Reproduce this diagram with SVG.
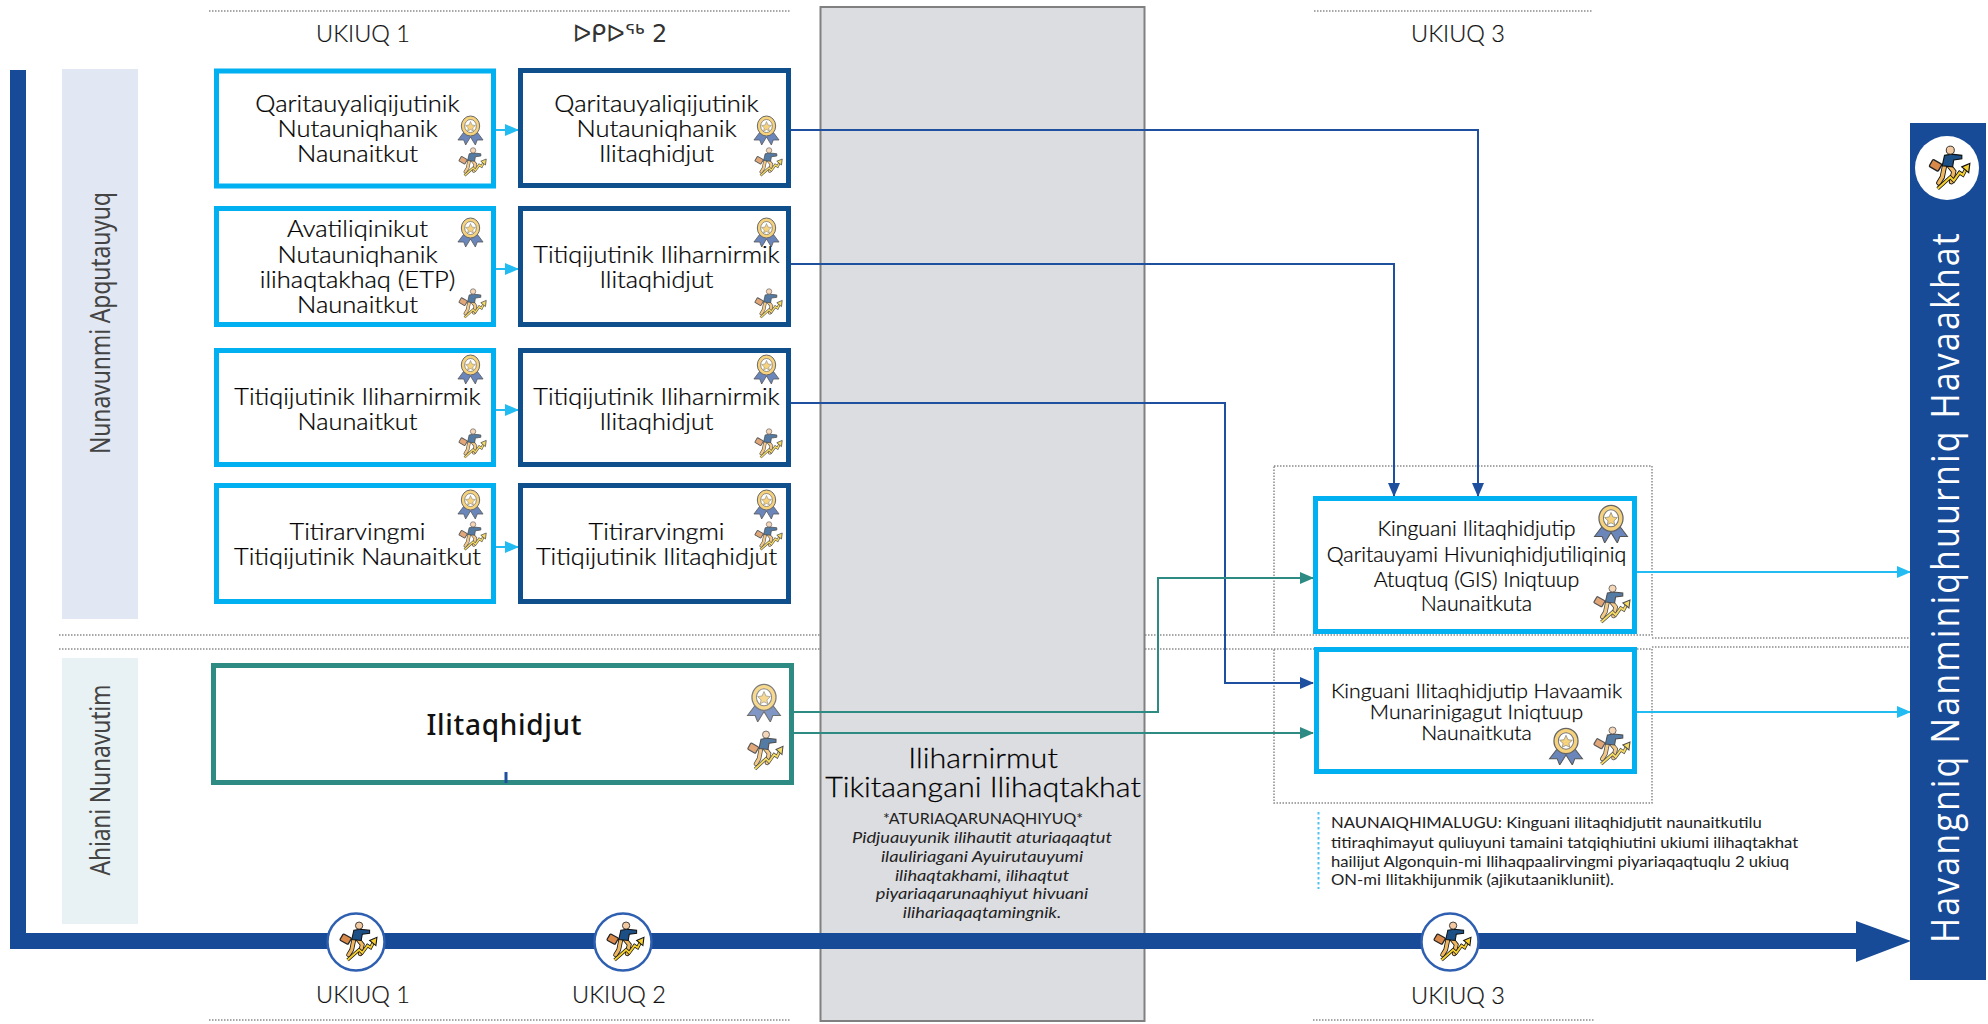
<svg xmlns="http://www.w3.org/2000/svg" width="1988" height="1024" viewBox="0 0 1988 1024">
<style>
.t{font-family:"Lato","Liberation Sans",sans-serif;fill:#000;text-anchor:middle;font-size:23px;font-weight:300;stroke:#000;stroke-width:.25}
.h{font-family:"Lato","Liberation Sans",sans-serif;fill:#111;text-anchor:middle;font-size:23.500px;font-weight:300;stroke:#111;stroke-width:.2}
.v{font-family:"Noto Sans","Liberation Sans",sans-serif;fill:#444;text-anchor:middle;font-size:23px}
.box{fill:#fff;stroke-width:5}
.cy{stroke:#00b0f0}.dk{stroke:#0f4f8c}.tl{stroke:#2e8b84}
.dot{fill:none;stroke:#8a8a8a;stroke-width:1.5;stroke-dasharray:1.5 1.5}
.c{fill:none;stroke-width:2}
.ring{fill:#fff;stroke:#2f5fb0;stroke-width:2.5}
</style>
<defs>
<marker id="ac" markerUnits="userSpaceOnUse" markerWidth="14" markerHeight="12" refX="13" refY="6" orient="auto"><path d="M0 0L14 6L0 12z" fill="#22bcf2"/></marker>
<marker id="ab" markerUnits="userSpaceOnUse" markerWidth="14" markerHeight="12" refX="13" refY="6" orient="auto"><path d="M0 0L14 6L0 12z" fill="#1f4f9f"/></marker>
<marker id="at" markerUnits="userSpaceOnUse" markerWidth="14" markerHeight="12" refX="13" refY="6" orient="auto"><path d="M0 0L14 6L0 12z" fill="#2e8b84"/></marker>
<symbol id="medal" viewBox="0 0 30 30" preserveAspectRatio="none">
<path d="M9 16L2 25L8 25L10 30L15 22L20 30L22 25L28 25L21 16z" fill="#6a86bb" stroke="#555" stroke-width=".8"/>
<ellipse cx="15" cy="11" rx="9.5" ry="10" fill="#f6d27c" stroke="#666" stroke-width="1"/>
<ellipse cx="15" cy="11" rx="6" ry="6.5" fill="#fff" stroke="#777" stroke-width=".8"/>
<path d="M15 6.500L16.500 10L20 10.500L17.300 13L18 16L15 14.500L12 16L12.700 13L10 10.500L13.500 10z" fill="#f6d27c" stroke="#777" stroke-width=".5"/>
</symbol>
<symbol id="runner" viewBox="0 0 40 40" preserveAspectRatio="none">
<rect x="5" y="14" width="9" height="7" rx="1" transform="rotate(30 9 17)" fill="#d98a4b" stroke="#222" stroke-width="1.200"/>
<path d="M17 18L15 28L12 33M21 18L25 23L23 32" fill="none" stroke="#111" stroke-width="4.500" stroke-linecap="round"/>
<path d="M17 18L15 28L12 33M21 18L25 23L23 32" fill="none" stroke="#efb75f" stroke-width="3" stroke-linecap="round"/>
<path d="M17 9L23 8L32 9L32 12L25 13L24 19L15 18z" fill="#1c4f86" stroke="#111" stroke-width="1"/>
<circle cx="22" cy="4.500" r="3.500" fill="#f2c9a0" stroke="#222" stroke-width=".8"/>
<path d="M11 38L22 28L25 31L30 24L33 26L36 20" fill="none" stroke="#111" stroke-width="3.200"/>
<path d="M11 38L22 28L25 31L30 24L33 26L36 20" fill="none" stroke="#f4cf2f" stroke-width="1.800"/>
<path d="M32 19L39 16L38 24z" fill="#f4cf2f" stroke="#111" stroke-width="1"/>
</symbol>
</defs>
<rect width="1988" height="1024" fill="#fff"/>

<g id="guides">
<path class="dot" d="M209 11H791M1314 11H1592M209 1020H791M1313 1020H1594M59 635H1274M59 649H1274M1652 638H1910M1652 647H1910"/>
<rect class="dot" x="1274" y="466" width="378" height="169"/>
<rect class="dot" x="1274" y="649" width="378" height="154"/>
<path d="M1318.500 812V889" fill="none" stroke="#4fc3f0" stroke-width="2" stroke-dasharray="2.500 2.500"/>
</g>

<g id="band-nunavut"><rect x="62" y="69" width="76" height="550" fill="#e1e8f3"/><text class="v" transform="translate(110 323) rotate(-90) scale(1 1.2)" textLength="262">Nunavunmi Apqutauyuq</text></g>
<g id="band-ahiani"><rect x="62" y="658" width="76" height="266" fill="#e8f1f3"/><text class="v" transform="translate(110 780) rotate(-90) scale(1 1.2)" textLength="191">Ahiani Nunavutim</text></g>

<g id="bridge">
<rect x="820.500" y="7" width="324" height="1014" fill="#dcdde0" stroke="#808080" stroke-width="2"/>
</g>

<g id="connectors">
<path d="M10 70H26V933H1856V921L1911 941L1856 962V949H10z" fill="#174a97"/>
<path class="c" stroke="#1f4f9f" d="M791 130H1478V496" marker-end="url(#ab)"/>
<path class="c" stroke="#1f4f9f" d="M791 264H1394V496" marker-end="url(#ab)"/>
<path class="c" stroke="#1f4f9f" d="M791 403H1225V683H1313" marker-end="url(#ab)"/>
<path class="c" stroke="#2e8b84" d="M794 712H1158V578H1313" marker-end="url(#at)"/>
<path class="c" stroke="#2e8b84" d="M794 733H1313" marker-end="url(#at)"/>
<path class="c" stroke="#22bcf2" d="M1637 572H1910" marker-end="url(#ac)"/>
<path class="c" stroke="#22bcf2" d="M1637 712H1910" marker-end="url(#ac)"/>
<path class="c" stroke="#22bcf2" d="M492 130H518" marker-end="url(#ac)"/>
<path class="c" stroke="#22bcf2" d="M492 269H518" marker-end="url(#ac)"/>
<path class="c" stroke="#22bcf2" d="M492 410H518" marker-end="url(#ac)"/>
<path class="c" stroke="#22bcf2" d="M492 547H518" marker-end="url(#ac)"/>
</g>

<g id="head-1"><text class="h" x="363" y="42">UKIUQ 1</text></g>
<g id="head-2"><text class="h" x="620" y="42" style="font-family:'DejaVu Sans','Lato',sans-serif;font-size:24px;font-weight:400;fill:#333;stroke:none">ᐅᑭᐅᖅ 2</text></g>
<g id="head-3"><text class="h" x="1458" y="42">UKIUQ 3</text></g>

<g id="n-map-cert"><rect class="box cy" x="216.500" y="71" width="277" height="115"/>
<text class="t" transform="translate(357.500 0) scale(1.11 1)"><tspan x="0" y="112">Qaritauyaliqijutinik</tspan><tspan x="0" y="137">Nutauniqhanik</tspan><tspan x="0" y="162">Naunaitkut</tspan></text>
<use href="#medal" x="456" y="115" width="29" height="30"/><use href="#runner" x="456" y="147" width="31" height="30" opacity=".75"/></g>
<g id="n-map-dip"><rect class="box dk" x="520.500" y="70.500" width="268" height="115"/>
<text class="t" transform="translate(656.500 0) scale(1.11 1)"><tspan x="0" y="112">Qaritauyaliqijutinik</tspan><tspan x="0" y="137">Nutauniqhanik</tspan><tspan x="0" y="162">Ilitaqhidjut</tspan></text>
<use href="#medal" x="752" y="115" width="29" height="30"/><use href="#runner" x="752" y="147" width="31" height="30" opacity=".75"/></g>

<g id="n-etp-cert"><rect class="box cy" x="216.500" y="208.500" width="277" height="116"/>
<text class="t" transform="translate(357.500 0) scale(1.11 1)"><tspan x="0" y="237">Avatiliqinikut</tspan><tspan x="0" y="263">Nutauniqhanik</tspan><tspan x="0" y="288">ilihaqtakhaq (ETP)</tspan><tspan x="0" y="313">Naunaitkut</tspan></text>
<use href="#medal" x="456" y="217" width="29" height="30"/><use href="#runner" x="456" y="288" width="31" height="31" opacity=".75"/></g>
<g id="n-etp-dip"><rect class="box dk" x="520.500" y="208.500" width="268" height="116"/>
<text class="t" transform="translate(656.500 0) scale(1.1 1)"><tspan x="0" y="263">Titiqijutinik Iliharnirmik</tspan><tspan x="0" y="288">Ilitaqhidjut</tspan></text>
<use href="#medal" x="752" y="217" width="29" height="30"/><use href="#runner" x="752" y="288" width="31" height="31" opacity=".75"/></g>

<g id="n-lang-cert"><rect class="box cy" x="216.500" y="350.500" width="277" height="114"/>
<text class="t" transform="translate(357.500 0) scale(1.1 1)"><tspan x="0" y="405">Titiqijutinik Iliharnirmik</tspan><tspan x="0" y="430">Naunaitkut</tspan></text>
<use href="#medal" x="456" y="354" width="29" height="30"/><use href="#runner" x="456" y="428" width="31" height="31" opacity=".75"/></g>
<g id="n-lang-dip"><rect class="box dk" x="520.500" y="350.500" width="268" height="114"/>
<text class="t" transform="translate(656.500 0) scale(1.1 1)"><tspan x="0" y="405">Titiqijutinik Iliharnirmik</tspan><tspan x="0" y="430">Ilitaqhidjut</tspan></text>
<use href="#medal" x="752" y="354" width="29" height="30"/><use href="#runner" x="752" y="428" width="31" height="31" opacity=".75"/></g>

<g id="n-admin-cert"><rect class="box cy" x="216.500" y="485.500" width="277" height="116"/>
<text class="t" transform="translate(357.500 0) scale(1.1 1)"><tspan x="0" y="540">Titirarvingmi</tspan><tspan x="0" y="565">Titiqijutinik Naunaitkut</tspan></text>
<use href="#medal" x="456" y="489" width="29" height="30"/><use href="#runner" x="456" y="521" width="31" height="30" opacity=".75"/></g>
<g id="n-admin-dip"><rect class="box dk" x="520.500" y="485.500" width="268" height="116"/>
<text class="t" transform="translate(656.500 0) scale(1.1 1)"><tspan x="0" y="540">Titirarvingmi</tspan><tspan x="0" y="565">Titiqijutinik Ilitaqhidjut</tspan></text>
<use href="#medal" x="752" y="489" width="29" height="30"/><use href="#runner" x="752" y="521" width="31" height="30" opacity=".75"/></g>

<g id="n-outside"><rect class="box tl" x="213.500" y="665.500" width="578" height="117"/>
<text x="504" y="735" textLength="155" style="font-family:'Noto Sans','Liberation Sans',sans-serif;font-size:28px;font-weight:500;fill:#111;text-anchor:middle">Ilitaqhidjut</text>
<path d="M506 772V783" stroke="#1f4f9f" stroke-width="3"/>
<use href="#medal" x="745" y="683" width="38" height="39" opacity=".85"/><use href="#runner" x="744" y="730" width="40" height="41" opacity=".75"/></g>

<g id="n-gis"><rect class="box cy" x="1315.500" y="498.500" width="319" height="133"/>
<text class="t" style="font-size:20.600px" transform="translate(1476.500 0) scale(1.035 1)"><tspan x="0" y="536">Kinguani Ilitaqhidjutip</tspan><tspan x="0" y="562">Qaritauyami Hivuniqhidjutiliqiniq</tspan><tspan x="0" y="587">Atuqtuq (GIS) Iniqtuup</tspan><tspan x="0" y="611">Naunaitkuta</tspan></text>
<use href="#medal" x="1592" y="504" width="38" height="39"/><use href="#runner" x="1590" y="584" width="41" height="40" opacity=".75"/></g>
<g id="n-proj"><rect class="box cy" x="1316.500" y="649.500" width="318" height="122"/>
<text class="t" style="font-size:20px" transform="translate(1476.500 0) scale(1.06 1)"><tspan x="0" y="698">Kinguani Ilitaqhidjutip Havaamik</tspan><tspan x="0" y="719">Munarinigagut Iniqtuup</tspan><tspan x="0" y="740">Naunaitkuta</tspan></text>
<use href="#medal" x="1547" y="727" width="38" height="38"/><use href="#runner" x="1590" y="726" width="41" height="40" opacity=".75"/></g>

<g id="n-bridge-text">
<text class="t" transform="translate(983 768) scale(1.13 1)" x="0" y="0" style="font-size:27px">Iliharnirmut</text>
<text class="t" transform="translate(983 797) scale(1.13 1)" x="0" y="0" style="font-size:27px">Tikitaangani Ilihaqtakhat</text>
<text class="t" transform="translate(983 824) scale(1.065 1)" x="0" y="0" style="font-size:15px;stroke:none;font-weight:400;fill:#222">*ATURIAQARUNAQHIYUQ*</text>
<text class="t" transform="translate(982 0) scale(1.14 1)" style="font-size:16px;font-style:italic;font-weight:400;stroke:none;fill:#222"><tspan x="0" y="843">Pidjuauyunik ilihautit aturiaqaqtut</tspan><tspan x="0" y="862">ilauliriagani Ayuirutauyumi</tspan><tspan x="0" y="881">ilihaqtakhami, ilihaqtut</tspan><tspan x="0" y="899">piyariaqarunaqhiyut hivuani</tspan><tspan x="0" y="918">ilihariaqaqtamingnik.</tspan></text>
</g>

<g id="n-note">
<text class="t" transform="translate(1331 0) scale(1.075 1)" style="font-size:15.500px;text-anchor:start;font-weight:400;stroke:none;fill:#222"><tspan x="0" y="828">NAUNAIQHIMALUGU: Kinguani ilitaqhidjutit naunaitkutilu</tspan><tspan x="0" y="848">titiraqhimayut quliuyuni tamaini tatqiqhiutini ukiumi ilihaqtakhat</tspan><tspan x="0" y="867">hailijut Algonquin-mi Ilihaqpaalirvingmi piyariaqaqtuqlu 2 ukiuq</tspan><tspan x="0" y="885">ON-mi Ilitakhijunmik (ajikutaanikluniit).</tspan></text>
</g>

<g id="m-1"><circle class="ring" cx="356" cy="942" r="28.500"/><use href="#runner" x="336" y="921" width="42" height="41"/><text class="h" x="363" y="1003">UKIUQ 1</text></g>
<g id="m-2"><circle class="ring" cx="623" cy="942" r="28.500"/><use href="#runner" x="603" y="921" width="42" height="41"/><text class="h" x="619" y="1003">UKIUQ 2</text></g>
<g id="m-3"><circle class="ring" cx="1450" cy="942" r="28.500"/><use href="#runner" x="1430" y="921" width="42" height="41"/><text class="h" x="1458" y="1004">UKIUQ 3</text></g>

<g id="n-outcome">
<rect x="1910" y="123" width="76" height="857" fill="#174a97"/>
<circle cx="1947" cy="168" r="32" fill="#fff"/>
<use href="#runner" x="1925" y="145" width="46" height="46"/>
<text transform="translate(1959 588) rotate(-90) scale(1 1.15)" style="font-family:'Open Sans','Liberation Sans',sans-serif;font-size:34px;fill:#fff;text-anchor:middle" textLength="710">Havangniq Nanminiqhuurniq Havaakhat</text>
</g>
</svg>
